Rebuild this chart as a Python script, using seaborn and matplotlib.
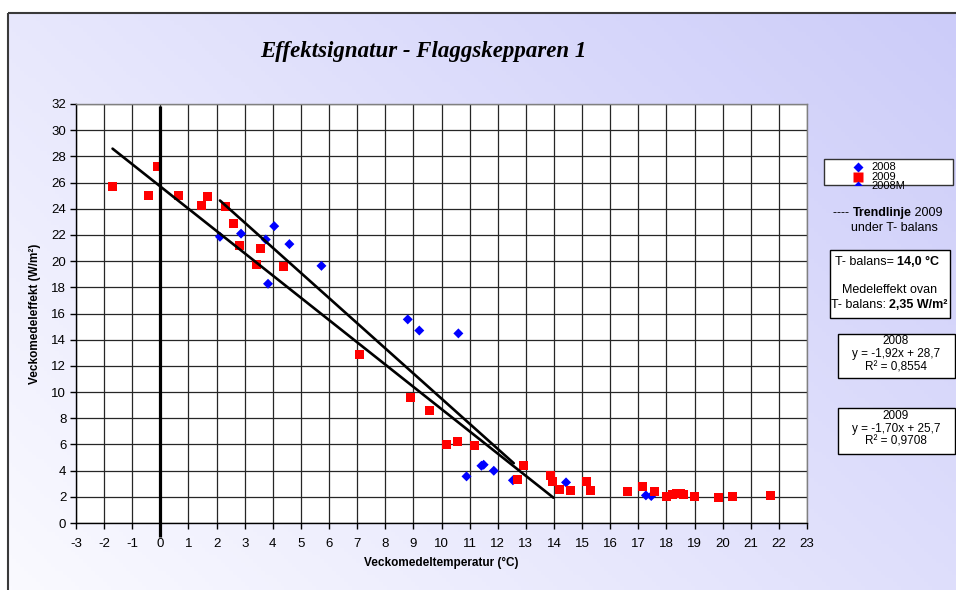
import matplotlib
matplotlib.use("Agg")
import matplotlib.pyplot as plt
from matplotlib.patches import Rectangle
import numpy as np
import pandas as pd
import seaborn as sns

# weekly mean temperature (°C) and weekly mean power (W/m²)
temp_2008 = [2.12, 2.87, 3.75, 4.05, 4.59, 5.73, 3.83, 8.80, 9.21, 10.60,
             10.89, 11.42, 11.50, 11.86, 12.54, 14.43, 17.27, 17.46]
eff_2008 = [21.86, 22.10, 21.65, 22.67, 21.30, 19.64, 18.27, 15.55, 14.70, 14.48,
            3.56, 4.37, 4.45, 3.99, 3.26, 3.10, 2.11, 2.06]

temp_2009 = [-1.70, -0.10, -0.41, 0.66, 1.47, 1.68, 2.30, 2.61, 2.83, 3.58,
             3.43, 4.37, 7.09, 8.88, 9.59, 10.19, 10.58, 11.16, 12.93, 12.72,
             13.88, 13.96, 14.21, 14.59, 15.17, 15.30, 16.63, 17.14, 17.59, 18.02,
             18.23, 18.35, 18.50, 18.62, 19.01, 19.86, 20.35, 21.70]
eff_2009 = [25.67, 27.20, 25.04, 25.00, 24.27, 24.90, 24.15, 22.90, 21.17, 21.00,
            19.75, 19.60, 12.85, 9.60, 8.60, 6.03, 6.21, 5.90, 4.37, 3.33,
            3.61, 3.20, 2.57, 2.49, 3.18, 2.50, 2.42, 2.82, 2.37, 2.04,
            2.20, 2.25, 2.22, 2.15, 2.06, 1.98, 2.06, 2.11]

# trend lines as given in the boxes: y = k*x + m, drawn over the x range shown
trend_2008_x = [2.12, 12.57]
trend_2008_k, trend_2008_m = -1.92, 28.7
trend_2009_x = [-1.70, 13.98]
trend_2009_k, trend_2009_m = -1.70, 25.7

x_ticks = list(range(-3, 24))
y_ticks = list(range(0, 33, 2))

W, H = 956, 590

sns.set_theme(style="white")
plt.rcParams["font.family"] = ["Liberation Sans", "DejaVu Sans"]
plt.rcParams["axes.unicode_minus"] = False
plt.rcParams["text.color"] = "black"
plt.rcParams["axes.labelcolor"] = "black"

fig = plt.figure(figsize=(W / 100, H / 100), dpi=100)
fig.patch.set_facecolor("white")

# background: lavender gradient inside a frame
bg = fig.add_axes([0, 0, 1, 1], zorder=-10)
bg.set_axis_off()
gx, gy = np.meshgrid(np.linspace(0, 1, 240), np.linspace(0, 1, 150))
t = 0.6 * gx + 0.4 * (1 - gy)
light = np.array([250, 250, 255]) / 255
dark = np.array([204, 204, 249]) / 255
grad = light + t[..., None] * (dark - light)
bg.imshow(grad, extent=[8, W, H, 13], aspect="auto", origin="upper")
bg.add_patch(Rectangle((8, 13), W, H, fill=False, ec="#3a3a3a", lw=1.5))
bg.set_xlim(0, W)
bg.set_ylim(H, 0)

# main plot
ax = fig.add_axes([76 / W, 1 - 523 / H, (807 - 76) / W, (523 - 104) / H])
ax.set_facecolor("white")

df08 = pd.DataFrame({"temp": temp_2008, "eff": eff_2008})
df09 = pd.DataFrame({"temp": temp_2009, "eff": eff_2009})
sns.scatterplot(data=df08, x="temp", y="eff", marker="D", s=26, color="#0000ff",
                edgecolor="none", linewidth=0, ax=ax, zorder=3)
sns.scatterplot(data=df09, x="temp", y="eff", marker="s", s=42, color="#ff0000",
                edgecolor="none", linewidth=0, ax=ax, zorder=4)

t08 = pd.DataFrame({"x": trend_2008_x})
t08["y"] = trend_2008_k * t08["x"] + trend_2008_m
t09 = pd.DataFrame({"x": trend_2009_x})
t09["y"] = trend_2009_k * t09["x"] + trend_2009_m
sns.lineplot(data=t08, x="x", y="y", color="black", lw=1.9, errorbar=None, ax=ax, zorder=5)
sns.lineplot(data=t09, x="x", y="y", color="black", lw=1.9, errorbar=None, ax=ax, zorder=5)

# 0 °C reference line, reaching a little below the axis
ax.plot([0, 0], [-1.05, 31.85], color="black", lw=2.3, clip_on=False, zorder=6,
        solid_capstyle="butt")

ax.set_xlim(-3, 23)
ax.set_ylim(0, 32)
ax.set_xticks(x_ticks)
ax.set_yticks(y_ticks)
ax.grid(True, color="#262626", lw=0.9)
ax.set_axisbelow(True)
ax.tick_params(axis="both", direction="out", length=4, width=1, color="black",
               labelsize=9.5, labelcolor="black")
ax.tick_params(axis="x", bottom=True, pad=7)
ax.tick_params(axis="y", left=True, pad=3)
for side in ["left", "bottom"]:
    ax.spines[side].set_color("black")
    ax.spines[side].set_linewidth(1)
for side in ["top", "right"]:
    ax.spines[side].set_color("#808080")
    ax.spines[side].set_linewidth(1)

ax.set_xlabel("Veckomedeltemperatur (°C)", fontsize=8.5, fontweight="bold")
ax.set_ylabel("Veckomedeleffekt (W/m²)", fontsize=8.5, fontweight="bold")
ax.xaxis.set_label_coords(0.5, -0.082)
ax.yaxis.set_label_coords(-0.048, 0.5)

# overlay in pixel coordinates for the title and the side notes
ov = fig.add_axes([0, 0, 1, 1], zorder=20)
ov.set_axis_off()
ov.set_xlim(0, W)
ov.set_ylim(H, 0)

ov.text(423, 52, "Effektsignatur - Flaggskepparen 1", ha="center", va="center",
        fontsize=16.5, fontweight="bold", fontstyle="italic",
        family=["Liberation Serif", "DejaVu Serif"])


def rich_line(x, y, parts, size=9):
    prev = None
    for s, weight in parts:
        if prev is None:
            prev = ov.text(x, y, s, fontsize=size, fontweight=weight, ha="left", va="center")
        else:
            prev = ov.annotate(s, xy=(1, 0), xycoords=prev, ha="left", va="bottom",
                               fontsize=size, fontweight=weight)


# legend box (cut off at the bottom, as in the original)
leg = Rectangle((824, 159), 129, 26, fc="white", ec="#333333", lw=1, zorder=2)
ov.add_patch(leg)
leg_rows = [("2008", "D", "#0000ff", 5.0), ("2009", "s", "#ff0000", 6.5),
            ("2008M", "D", "#0000ff", 5.0)]
for i, (lab, mk, col, ms) in enumerate(leg_rows):
    yy = 167 + i * 9.5
    ln, = ov.plot([858], [yy], marker=mk, ms=ms, color=col, mec="none", ls="none", zorder=3)
    ln.set_clip_path(leg)
    tx = ov.text(871, yy, lab, fontsize=8, ha="left", va="center", zorder=3)
    tx.set_clip_path(leg)

rich_line(833, 213, [("---- ", "normal"), ("Trendlinje", "bold"), (" 2009", "normal")])
ov.text(894, 228, "under T- balans", fontsize=9, ha="center", va="center")

ov.add_patch(Rectangle((830, 250), 120, 68, fc="white", ec="black", lw=1, zorder=1))
rich_line(835, 262, [("T- balans= ", "normal"), ("14,0 °C", "bold")])
ov.text(890, 290, "Medeleffekt ovan", fontsize=9, ha="center", va="center")
rich_line(831, 305, [("T- balans: ", "normal"), ("2,35 W/m²", "bold")])

ov.add_patch(Rectangle((838, 334), 117, 44, fc="white", ec="black", lw=1, zorder=1))
ov.text(896, 341, "2008", fontsize=8.5, ha="center", va="center")
ov.text(896, 354, "y = -1,92x + 28,7", fontsize=8.5, ha="center", va="center")
ov.text(896, 367, "R² = 0,8554", fontsize=8.5, ha="center", va="center")

ov.add_patch(Rectangle((838, 408), 117, 46, fc="white", ec="black", lw=1, zorder=1))
ov.text(896, 416, "2009", fontsize=8.5, ha="center", va="center")
ov.text(896, 429, "y = -1,70x + 25,7", fontsize=8.5, ha="center", va="center")
ov.text(896, 442, "R² = 0,9708", fontsize=8.5, ha="center", va="center")

fig.savefig("out.png", dpi=100)
